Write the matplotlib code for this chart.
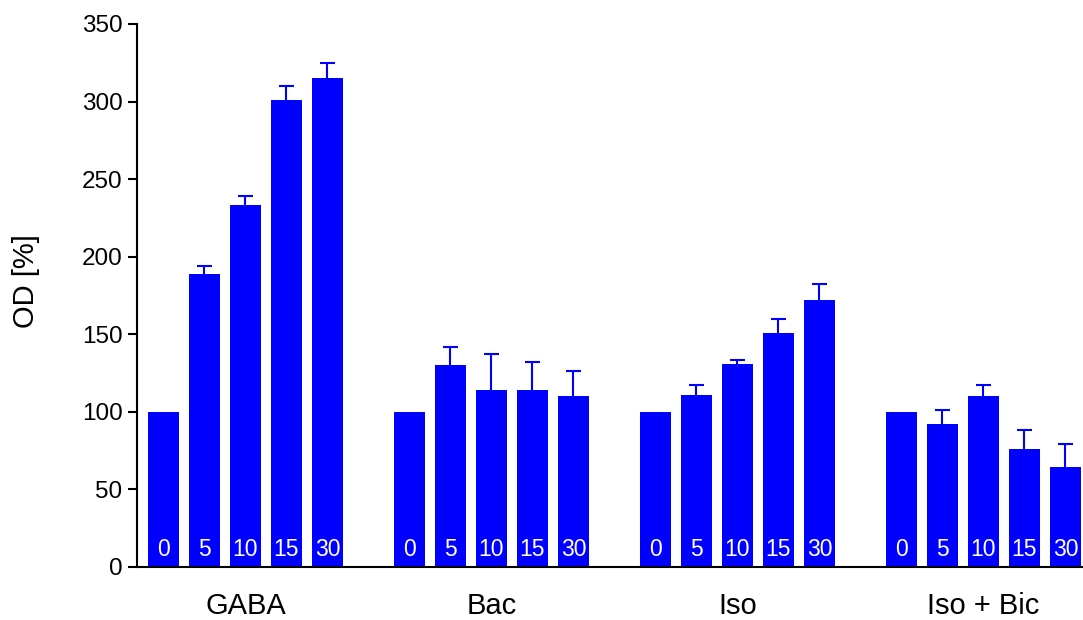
import matplotlib
from matplotlib import pyplot as plt
import numpy as np

matplotlib.use('Agg')
plt.rcParams['font.family'] = ['Liberation Sans', 'DejaVu Sans']

groups = ['GABA', 'Bac', 'Iso', 'Iso + Bic']
doses = ['0', '5', '10', '15', '30']

gaba = [100, 189, 233, 301, 315]
gaba_err = [0, 5, 6, 9, 10]
bac = [100, 130, 114, 114, 110]
bac_err = [0, 12, 23, 18, 16]
iso = [100, 111, 131, 151, 172]
iso_err = [0, 6, 2, 9, 10]
iso_bic = [100, 92, 110, 76, 64]
iso_bic_err = [0, 9, 7, 12, 15]

values = [gaba, bac, iso, iso_bic]
errors = [gaba_err, bac_err, iso_err, iso_bic_err]

blue = '#0000ff'
group_step = 6

fig = plt.figure(figsize=(10.83, 6.2), dpi=100)
ax = fig.add_axes([0.1265, 0.086, 0.8735, 0.8753])

for g, (vals, errs) in enumerate(zip(values, errors)):
    x = g * group_step + np.arange(len(vals))
    vals = np.array(vals)
    errs = np.array(errs)
    ax.bar(x, vals, width=0.76, color=blue, edgecolor='none', zorder=2)

    # upper error only: stem hidden behind the bar, cap drawn on top
    has_err = errs > 0
    top = vals[has_err] + errs[has_err]
    ax.vlines(x[has_err], vals[has_err], top, color=blue, linewidth=1.5, zorder=1)
    ax.plot(x[has_err], top, linestyle='none', marker='_', markersize=10.8,
            markeredgewidth=1.5, color=blue, zorder=1)

    for xi, label in zip(x, doses):
        ax.annotate(label, (xi, 0), xytext=(0, 7.5), textcoords='offset points',
                    ha='center', va='baseline', color='white', fontsize=16.5)

centers = [g * group_step + 2 for g in range(len(groups))]
ax.set_xticks(centers)
ax.set_xticklabels(groups, fontsize=21)
ax.tick_params(axis='x', length=0, pad=18)

ax.set_ylim(0, 350)
ax.set_yticks(np.arange(0, 351, 50))
ax.tick_params(axis='y', labelsize=17.5, length=6.5, width=1.5, pad=4)
ax.set_xlim(-0.646, 22.43)

ax.set_ylabel('OD [%]', fontsize=21)
ax.yaxis.set_label_coords(-0.103, 0.527)

for side in ['top', 'right']:
    ax.spines[side].set_visible(False)
for side in ['left', 'bottom']:
    ax.spines[side].set_linewidth(1.5)

plt.savefig('out.png', format='png', dpi=100)
plt.clf()
